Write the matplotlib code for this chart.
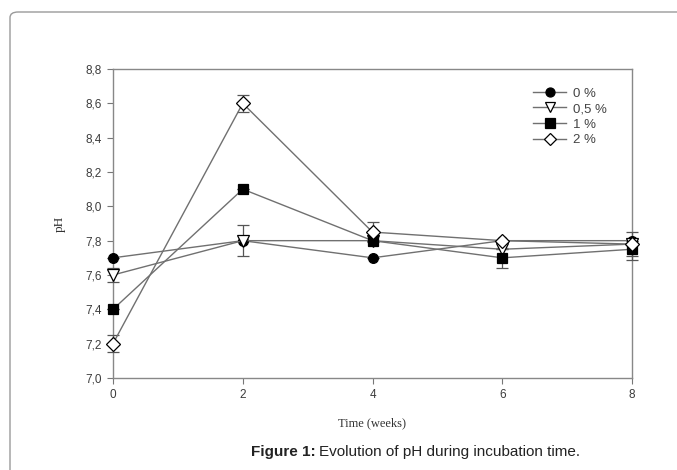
import matplotlib
matplotlib.use("Agg")
import matplotlib.pyplot as plt
from matplotlib.patches import FancyBboxPatch
from matplotlib.lines import Line2D
from matplotlib.ticker import FuncFormatter

weeks = [0, 2, 4, 6, 8]
ph_0 = [7.70, 7.80, 7.70, 7.80, 7.80]
ph_05 = [7.60, 7.80, 7.80, 7.75, 7.78]
ph_1 = [7.40, 8.10, 7.80, 7.70, 7.75]
ph_2 = [7.20, 8.60, 7.85, 7.80, 7.78]
err_0 = [0.0, 0.0, 0.0, 0.0, 0.0]
err_05 = [0.04, 0.09, 0.0, 0.0, 0.07]
err_1 = [0.0, 0.0, 0.0, 0.06, 0.06]
err_2 = [0.05, 0.05, 0.06, 0.0, 0.0]
labels = ["0 %", "0,5 %", "1 %", "2 %"]
yticks = [7.0, 7.2, 7.4, 7.6, 7.8, 8.0, 8.2, 8.4, 8.6, 8.8]
xticks = [0, 2, 4, 6, 8]

fig = plt.figure(figsize=(6.77, 4.70), dpi=100)

frame = FancyBboxPatch((10/677, -0.1), 700/677, 1.1 - 12/470, transform=fig.transFigure,
                       boxstyle="round,pad=0,rounding_size=0.012", fc="none",
                       ec="#9a9a9a", lw=1.0, zorder=0)
fig.patches.append(frame)

ax = fig.add_axes([113/677, 1 - 378/470, (632-113)/677, (378-69)/470])
ax.set_zorder(2)
ax.patch.set_alpha(0)

styles = [
    dict(marker="o", mfc="black", mec="black", ms=7),
    dict(marker="v", mfc="white", mec="black", ms=8),
    dict(marker="s", mfc="black", mec="black", ms=7),
    dict(marker="D", mfc="white", mec="black", ms=7),
]
data = [(ph_0, err_0), (ph_05, err_05), (ph_1, err_1), (ph_2, err_2)]
handles = []
for (vals, errs), st, lab in zip(data, styles, labels):
    ax.errorbar(weeks, vals, yerr=errs, color="#707070", lw=1.0, elinewidth=0.9,
                ecolor="#555555", capsize=4, capthick=0.9, mew=0.9,
                clip_on=False, zorder=3, **st)
    hst = dict(st)
    hst["ms"] = st["ms"] - 0.5
    handles.append(Line2D([], [], color="#707070", lw=1.0, mew=0.9, label=lab, **hst))

ax.set_xlim(0, 8)
ax.set_ylim(7.0, 8.8)
ax.set_xticks(xticks)
ax.set_yticks(yticks)
ax.yaxis.set_major_formatter(FuncFormatter(lambda v, p: f"{v:.1f}".replace(".", ",")))
ax.tick_params(direction="out", length=4, width=0.8, color="#777777",
               labelsize=8.5, labelcolor="#3c3c3c", top=False, right=False, pad=4)
for lab in ax.get_xticklabels() + ax.get_yticklabels():
    lab.set_fontfamily("Liberation Sans")
for s in ax.spines.values():
    s.set_color("#888888")
    s.set_linewidth(1.0)

ax.set_xlabel("Time (weeks)", fontfamily="Liberation Serif", fontsize=9, color="#333333", labelpad=12)
ax.set_ylabel("pH", fontfamily="Liberation Serif", fontsize=9.5, color="#333333", labelpad=14)

leg = ax.legend(handles=handles, loc="upper left", bbox_to_anchor=(0.797, 0.962), frameon=False,
                prop={"family": "Liberation Sans", "size": 9.5}, handlelength=2.5,
                labelspacing=0.25, handletextpad=0.5, borderpad=0)
for t in leg.get_texts():
    t.set_color("#444444")

fig.text(316/677, 1 - 452/470, "Figure 1:", ha="right", va="center",
         fontfamily="Liberation Sans", fontweight="bold", fontsize=11, color="#222222")
fig.text(319/677, 1 - 452/470, "Evolution of pH during incubation time.", ha="left", va="center",
         fontfamily="Liberation Sans", fontsize=11, color="#222222")

fig.savefig("out.png", dpi=100)
